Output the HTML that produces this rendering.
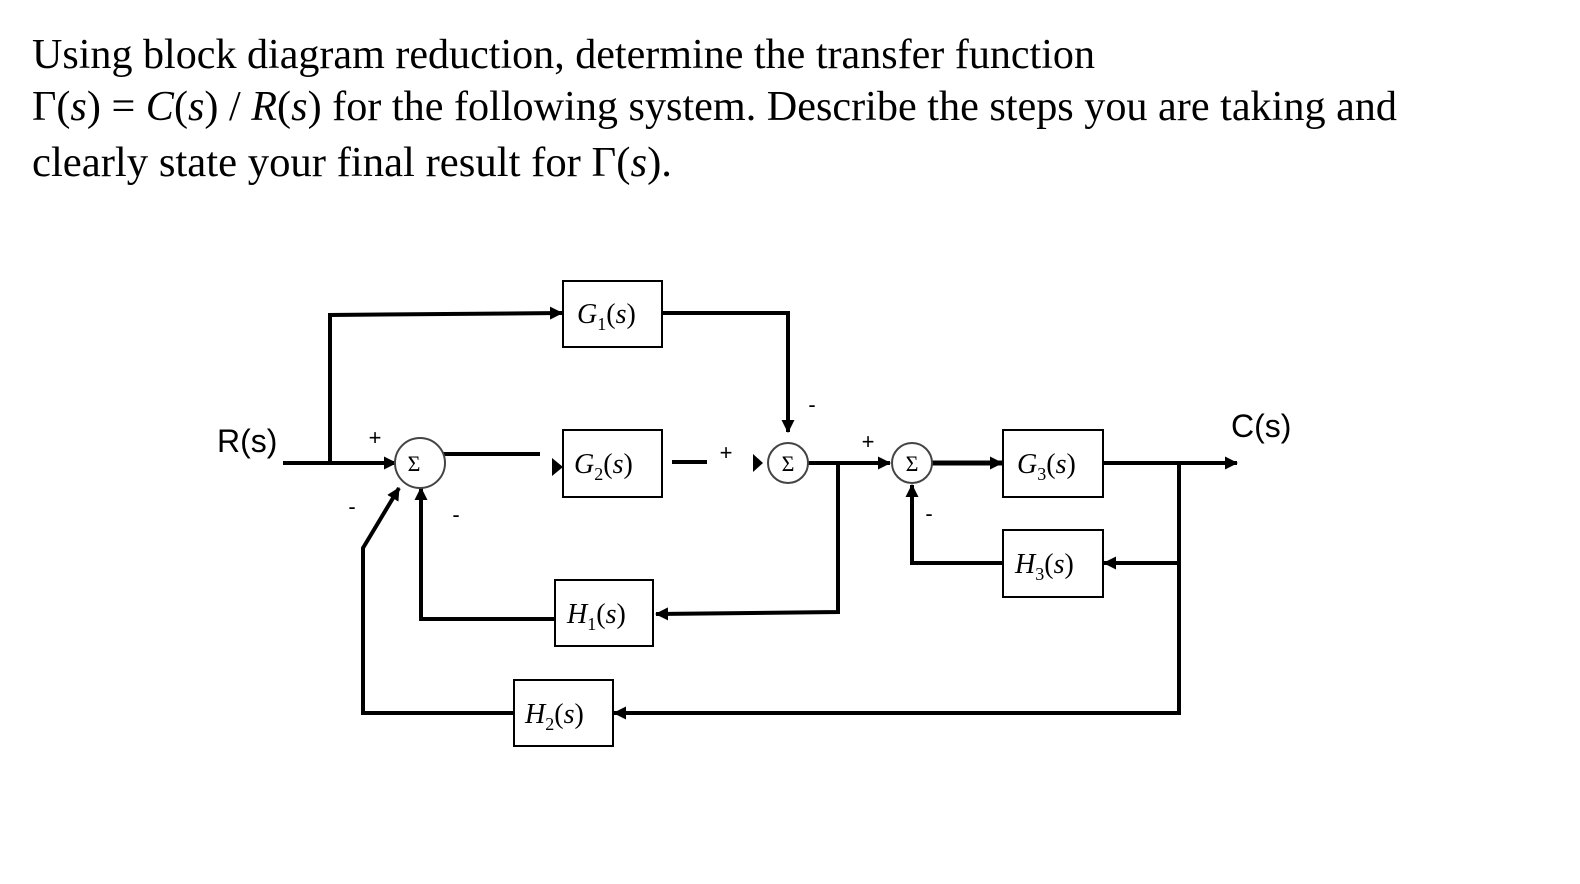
<!DOCTYPE html>
<html><head><meta charset="utf-8"><style>html,body{margin:0;padding:0;background:#fff}svg{display:block}</style></head>
<body>
<svg width="1580" height="884" viewBox="0 0 1580 884" xmlns="http://www.w3.org/2000/svg">
<defs>
<marker id="a" markerWidth="10" markerHeight="10" refX="9" refY="5" orient="auto" markerUnits="userSpaceOnUse" viewBox="0 0 10 10"><path d="M0,0 L10,5 L0,10 z" fill="#000"/></marker>
<marker id="b" markerWidth="13" markerHeight="13" refX="12" refY="6.5" orient="auto" markerUnits="userSpaceOnUse" viewBox="0 0 13 13"><path d="M0,0 L13,6.5 L0,13 z" fill="#000"/></marker>
</defs>
<g font-family="Liberation Serif, serif" font-size="42" fill="#000">
<text x="32" y="68" textLength="1063" lengthAdjust="spacingAndGlyphs">Using block diagram reduction, determine the transfer function</text>
<text x="32" y="120" textLength="1365" lengthAdjust="spacingAndGlyphs">Γ(<tspan font-style="italic">s</tspan>) = <tspan font-style="italic">C</tspan>(<tspan font-style="italic">s</tspan>) / <tspan font-style="italic">R</tspan>(<tspan font-style="italic">s</tspan>) for the following system. Describe the steps you are taking and</text>
<text x="32" y="176" textLength="640" lengthAdjust="spacingAndGlyphs">clearly state your final result for Γ(<tspan font-style="italic">s</tspan>).</text>
</g>
<g stroke="#000" stroke-width="4" fill="none">
<!-- input -->
<line x1="283" y1="463" x2="396" y2="463" marker-end="url(#b)"/>
<polyline points="330,463 330,315 562,313" marker-end="url(#b)"/>
<!-- sum1 to G2 -->
<line x1="443" y1="454" x2="540" y2="454"/>
<!-- G1 to sum2 -->
<polyline points="662,313 788,313 788,432" marker-end="url(#b)"/>
<!-- G2 out -->
<line x1="672" y1="462" x2="707" y2="462"/>
<!-- sum2 out -->
<line x1="808" y1="463" x2="890" y2="463" marker-end="url(#b)"/>
<polyline points="838,463 838,612 656,614" marker-end="url(#b)"/>
<!-- H1 out -->
<polyline points="555,619 421,619 421,488" marker-end="url(#b)"/>
<!-- sum3 to G3 -->
<line x1="932" y1="463" x2="1002" y2="463" stroke-width="5" marker-end="url(#b)"/>
<!-- G3 out -->
<line x1="1103" y1="463" x2="1237" y2="463" marker-end="url(#b)"/>
<polyline points="1179,463 1179,713 614,713" marker-end="url(#b)"/>
<line x1="1179" y1="563" x2="1104" y2="563" marker-end="url(#b)"/>
<!-- H3 out -->
<polyline points="1003,563 912,563 912,485" marker-end="url(#b)"/>
<!-- H2 out -->
<polyline points="514,713 363,713 363,548 399,488" marker-end="url(#b)"/>
</g>
<g fill="#000">
<path d="M552,458 L563,467 L552,476 z"/>
<path d="M753,454 L763,463 L753,472 z"/>
</g>
<g stroke="#000" stroke-width="2" fill="#fff">
<rect x="563" y="281" width="99" height="66"/>
<rect x="563" y="430" width="99" height="67"/>
<rect x="555" y="580" width="98" height="66"/>
<rect x="514" y="680" width="99" height="66"/>
<rect x="1003" y="430" width="100" height="67"/>
<rect x="1003" y="530" width="100" height="67"/>
</g>
<g stroke="#444" stroke-width="2" fill="#fff">
<circle cx="420" cy="463" r="25"/>
<circle cx="788" cy="463" r="20"/>
<circle cx="912" cy="463" r="20"/>
</g>
<g font-family="Liberation Serif, serif" font-size="22" text-anchor="middle" fill="#000">
<text x="414" y="471">Σ</text>
<text x="788" y="471">Σ</text>
<text x="912" y="471">Σ</text>
</g>
<g font-family="Liberation Serif, serif" font-size="28" fill="#000" font-style="italic">
<text x="577" y="323">G<tspan font-size="18" dy="7" font-style="normal">1</tspan><tspan dy="-7" font-style="normal">(</tspan>s<tspan font-style="normal">)</tspan></text>
<text x="574" y="473">G<tspan font-size="18" dy="7" font-style="normal">2</tspan><tspan dy="-7" font-style="normal">(</tspan>s<tspan font-style="normal">)</tspan></text>
<text x="567" y="623">H<tspan font-size="18" dy="7" font-style="normal">1</tspan><tspan dy="-7" font-style="normal">(</tspan>s<tspan font-style="normal">)</tspan></text>
<text x="525" y="723">H<tspan font-size="18" dy="7" font-style="normal">2</tspan><tspan dy="-7" font-style="normal">(</tspan>s<tspan font-style="normal">)</tspan></text>
<text x="1017" y="473">G<tspan font-size="18" dy="7" font-style="normal">3</tspan><tspan dy="-7" font-style="normal">(</tspan>s<tspan font-style="normal">)</tspan></text>
<text x="1015" y="573">H<tspan font-size="18" dy="7" font-style="normal">3</tspan><tspan dy="-7" font-style="normal">(</tspan>s<tspan font-style="normal">)</tspan></text>
</g>
<g font-family="Liberation Sans, sans-serif" fill="#000">
<text x="217" y="452" font-size="32">R(s)</text>
<text x="1231" y="437" font-size="32">C(s)</text>
<g font-size="22" text-anchor="middle">
<text x="375" y="445">+</text>
<text x="352" y="514">-</text>
<text x="456" y="522">-</text>
<text x="726" y="460">+</text>
<text x="812" y="412">-</text>
<text x="868" y="449">+</text>
<text x="929" y="521">-</text>
</g>
</g>
</svg>
</body></html>
